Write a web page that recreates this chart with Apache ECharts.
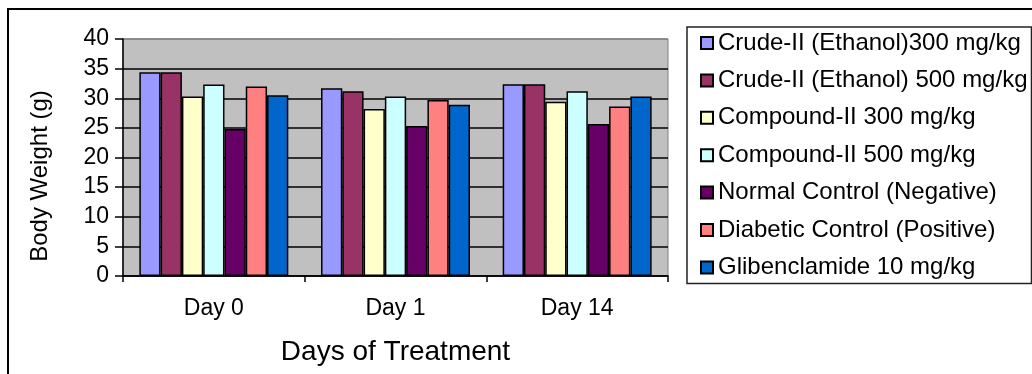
<!DOCTYPE html>
<html>
<head>
<meta charset="utf-8">
<script src="https://cdn.jsdelivr.net/npm/echarts@6/dist/echarts.min.js"></script>
<style>
  html, body { margin: 0; padding: 0; background: #fff; }
  #chart { width: 1032px; height: 374px; }
</style>
</head>
<body>
<div id="chart"></div>
<script>
const categories = ['Day 0', 'Day 1', 'Day 14'];
const seriesNames = [
  'Crude-II (Ethanol)300 mg/kg',
  'Crude-II (Ethanol) 500 mg/kg',
  'Compound-II 300 mg/kg',
  'Compound-II 500 mg/kg',
  'Normal Control (Negative)',
  'Diabetic Control (Positive)',
  'Glibenclamide 10 mg/kg'
];
const crude300 = [34.4, 31.7, 32.35];
const crude500 = [34.4, 31.2, 32.35];
const comp300 = [30.3, 28.2, 29.4];
const comp500 = [32.3, 30.3, 31.2];
const normalCtrl = [24.8, 25.3, 25.65];
const diabeticCtrl = [32.0, 29.7, 28.6];
const gliben = [30.5, 28.9, 30.3];
const seriesValues = [crude300, crude500, comp300, comp500, normalCtrl, diabeticCtrl, gliben];
const colors = ['#9999FF', '#993366', '#FFFFCC', '#CCFFFF', '#660066', '#FF8080', '#0066CC'];
const yTicks = [0, 5, 10, 15, 20, 25, 30, 35, 40];

const FONT = '"Liberation Sans", Arial, sans-serif';
const chart = echarts.init(document.getElementById('chart'), null, { renderer: 'canvas' });

const splitColors = yTicks.map((t, i) => i === yTicks.length - 1 ? '#808080' : '#000000');

chart.setOption({
  animation: false,
  backgroundColor: '#ffffff',
  color: colors,
  grid: {
    left: 123, top: 39, right: 364, bottom: 98,
    show: true, backgroundColor: '#C0C0C0', borderColor: '#808080', borderWidth: 1
  },
  legend: {
    orient: 'vertical',
    left: 687, top: 27,
    padding: [4, 4, 4, 13],
    itemWidth: 12, itemHeight: 12, itemGap: 13.4,
    icon: 'rect',
    borderColor: '#222', borderWidth: 1.5,
    textStyle: { fontFamily: FONT, fontSize: 24, lineHeight: 24, color: '#000' },
    data: seriesNames
  },
  xAxis: {
    type: 'category',
    data: categories,
    axisLine: { lineStyle: { color: '#000', width: 1.5 } },
    axisTick: { show: true, length: 6, lineStyle: { color: '#000', width: 1.5 } },
    axisLabel: { fontFamily: FONT, fontSize: 23, color: '#000', margin: 21 },
    name: 'Days of Treatment',
    nameLocation: 'middle',
    nameGap: 62,
    nameTextStyle: { fontFamily: FONT, fontSize: 28, color: '#000' }
  },
  yAxis: {
    type: 'value',
    min: yTicks[0], max: yTicks[yTicks.length - 1], interval: 5,
    axisLine: { show: true, lineStyle: { color: '#000', width: 1.5 } },
    axisTick: { show: true, length: 8, lineStyle: { color: '#000', width: 1.5 } },
    axisLabel: { fontFamily: FONT, fontSize: 23, color: '#000', margin: 14 },
    splitLine: { show: true, lineStyle: { color: splitColors, width: 1.5 } }
  },
  graphic: [
    { type: 'rect', shape: { x: 8, y: 9, width: 1100, height: 500 },
      style: { fill: 'none', stroke: '#000', lineWidth: 2 }, silent: true, z: 100 },
    { type: 'text', x: 40, y: 176, rotation: Math.PI / 2,
      style: { text: 'Body Weight (g)', font: '24px ' + FONT, fill: '#000',
               textAlign: 'center', textVerticalAlign: 'middle' } }
  ],
  series: seriesNames.map((name, i) => ({
    name: name,
    type: 'bar',
    data: seriesValues[i],
    barGap: '0%',
    barCategoryGap: '18%',
    itemStyle: { color: colors[i], borderColor: '#000', borderWidth: 1.5 }
  }))
});
</script>
</body>
</html>
